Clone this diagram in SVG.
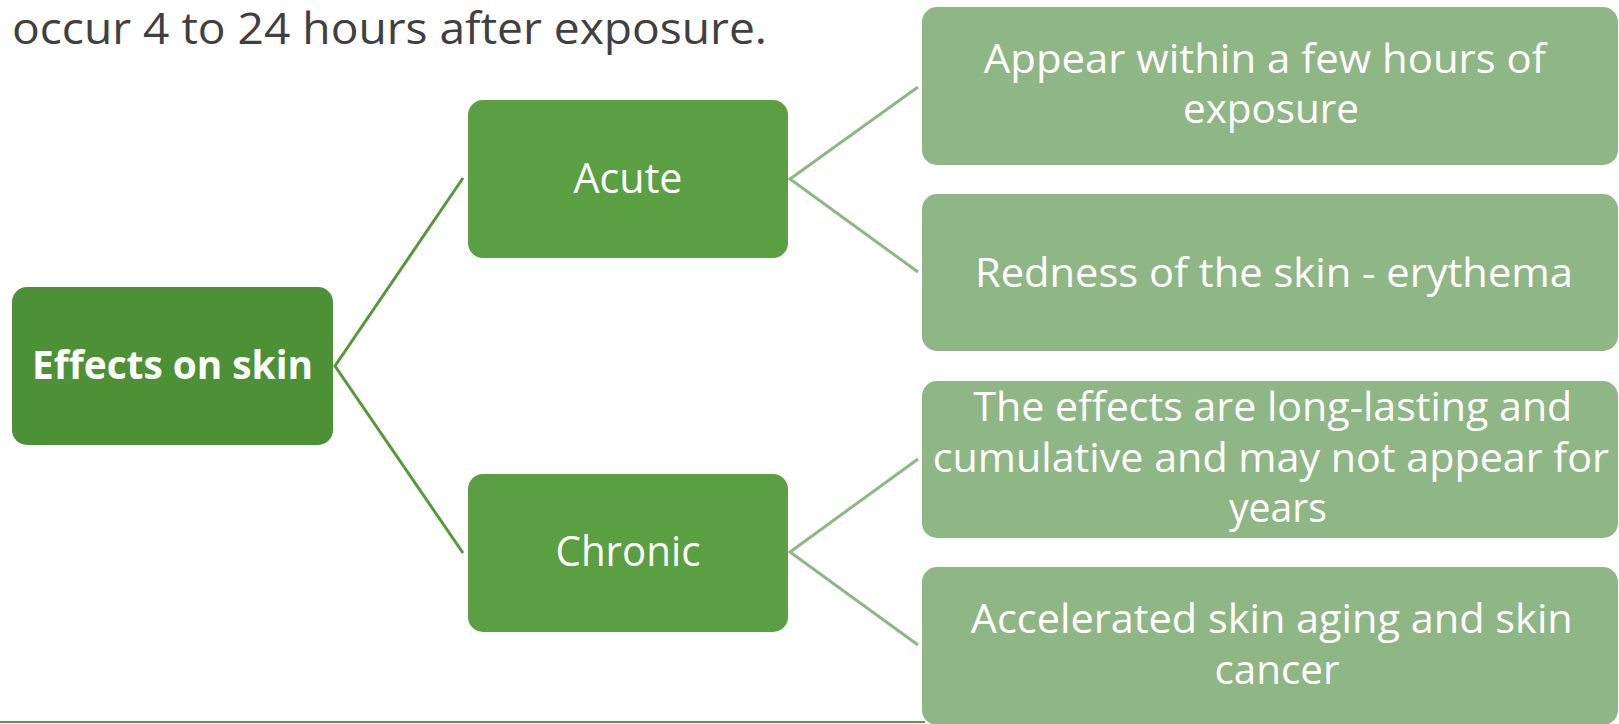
<svg xmlns="http://www.w3.org/2000/svg" width="1619" height="724" viewBox="0 0 1619 724">
  <style>
    .txt { font-family: "Open Sans", "Liberation Sans", sans-serif; fill: #ffffff; }
    .title { font-family: "Open Sans", "Liberation Sans", sans-serif; fill: #404040; font-size: 43px; }
    .root { fill: #4c9135; }
    .mid { fill: #5a9f41; }
    .leaf { fill: #8fb786; }
    .c1 { stroke: #549a3b; stroke-width: 3; fill: none; }
    .c2 { stroke: #8fb786; stroke-width: 3; fill: none; }
  </style>
  <rect width="1619" height="724" fill="#ffffff"/>

  <!-- heading line above the diagram -->
  <text class="title" x="12" y="44" textLength="755" lengthAdjust="spacingAndGlyphs">occur 4 to 24 hours after exposure.</text>

  <!-- rule along the bottom edge -->
  <line x1="0" y1="722" x2="925" y2="722" stroke="#5a9b47" stroke-width="2"/>

  <!-- connectors -->
  <g id="connectors">
    <polyline class="c1" points="463,178 335,366 463,553"/>
    <polyline class="c2" points="918,87 790,179 918,272"/>
    <polyline class="c2" points="918,459 790,552 918,645"/>
  </g>

  <g id="node-effects">
    <rect class="root" x="12" y="287" width="321" height="158" rx="15"/>
    <text class="txt" x="172.5" y="379" font-size="40" font-weight="bold" text-anchor="middle" textLength="281" lengthAdjust="spacingAndGlyphs">Effects on skin</text>
  </g>

  <g id="node-acute">
    <rect class="mid" x="468" y="100" width="320" height="158" rx="15"/>
    <text class="txt" x="628" y="193" font-size="42" text-anchor="middle" textLength="109" lengthAdjust="spacingAndGlyphs">Acute</text>
  </g>

  <g id="node-chronic">
    <rect class="mid" x="468" y="474" width="320" height="158" rx="15"/>
    <text class="txt" x="628" y="566" font-size="42" text-anchor="middle" textLength="145" lengthAdjust="spacingAndGlyphs">Chronic</text>
  </g>

  <g id="node-appear">
    <rect class="leaf" x="922" y="7" width="696" height="158" rx="15"/>
    <text class="txt" font-size="40" text-anchor="middle">
      <tspan x="1270" y="73" textLength="562" lengthAdjust="spacingAndGlyphs">Appear within a few hours of</tspan>
      <tspan x="1271" y="123" textLength="176" lengthAdjust="spacingAndGlyphs">exposure</tspan>
    </text>
  </g>

  <g id="node-redness">
    <rect class="leaf" x="922" y="194" width="696" height="157" rx="15"/>
    <text class="txt" font-size="40" text-anchor="middle" x="1274" y="287" textLength="598" lengthAdjust="spacingAndGlyphs">Redness of the skin - erythema</text>
  </g>

  <g id="node-longlasting">
    <rect class="leaf" x="922" y="381" width="696" height="157" rx="15"/>
    <text class="txt" font-size="40" text-anchor="middle">
      <tspan x="1278" y="421" textLength="599" lengthAdjust="spacingAndGlyphs">The effects are long-lasting and</tspan>
      <tspan x="1276" y="472" textLength="676" lengthAdjust="spacingAndGlyphs">cumulative and may not appear for</tspan>
      <tspan x="1278" y="522" textLength="98" lengthAdjust="spacingAndGlyphs">years</tspan>
    </text>
  </g>

  <g id="node-aging">
    <rect class="leaf" x="922" y="567" width="696" height="158" rx="15"/>
    <text class="txt" font-size="40" text-anchor="middle">
      <tspan x="1277" y="633" textLength="602" lengthAdjust="spacingAndGlyphs">Accelerated skin aging and skin</tspan>
      <tspan x="1277" y="684" textLength="125" lengthAdjust="spacingAndGlyphs">cancer</tspan>
    </text>
  </g>
</svg>
